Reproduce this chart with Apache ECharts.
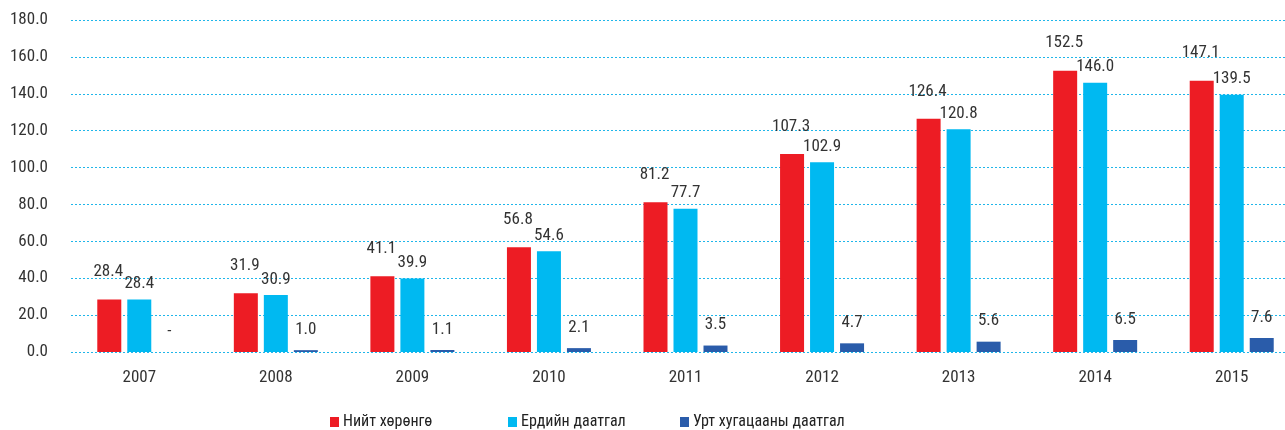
<!DOCTYPE html>
<html><head><meta charset="utf-8">
<script src="https://cdn.jsdelivr.net/npm/echarts@6/dist/echarts.min.js"></script>
<style>html,body{margin:0;padding:0;background:#fff}#c{width:1285px;height:430px}</style>
</head><body><div id="c"></div>
<script>
const categories = ['2007','2008','2009','2010','2011','2012','2013','2014','2015'];
const seriesNames = ['Нийт хөрөнгө','Ердийн даатгал','Урт хугацааны даатгал'];
const totalAssets = [28.4,31.9,41.1,56.8,81.2,107.3,126.4,152.5,147.1];
const generalIns = [28.4,30.9,39.9,54.6,77.7,102.9,120.8,146.0,139.5];
const longTermIns = [0,1.0,1.1,2.1,3.5,4.7,5.6,6.5,7.6];
const yTicks = {min:0,max:180,interval:20};

const FONT = '"Liberation Sans Narrow", "Roboto Condensed", Roboto, sans-serif';
const colors = ['#ed1c24','#00b9f1','#2a5caa'];
const legendLeft = [330, 508, 680];
const fmt = p => p.value === 0 ? '-' : p.value.toFixed(1);
function mk(i, data, dist, off){
  return {
    name: seriesNames[i], type:'bar', data: data, barWidth:24, barGap:'25%',
    itemStyle:{color:colors[i]},
    label:{show:true, position:'top', distance:dist, offset:off, formatter:fmt,
      color:'#333', fontFamily:FONT, fontSize:17},
  };
}
const chart = echarts.init(document.getElementById('c'));
chart.setOption({
  animation:false,
  textStyle:{fontFamily:FONT},
  grid:{left:71, top:20, width:1229, height:332, containLabel:false, outerBoundsMode:'none'},
  legend: seriesNames.map((n,i)=>({
    left:legendLeft[i], top:414, padding:0, itemWidth:9, itemHeight:10, itemGap:6,
    icon:'rect',
    textStyle:{fontFamily:FONT, fontSize:16, color:'#222', padding:[0,0,0,-1]},
    data:[n]
  })),
  xAxis:{
    type:'category', data:categories,
    axisLine:{show:false}, axisTick:{show:false},
    axisLabel:{color:'#333', fontFamily:FONT, fontSize:17, margin:17}
  },
  yAxis:{
    type:'value', min:yTicks.min, max:yTicks.max, interval:yTicks.interval,
    axisLine:{show:false}, axisTick:{show:false},
    axisLabel:{color:'#333', fontFamily:FONT, fontSize:17, margin:23,
      formatter: v => v.toFixed(1)},
    splitLine:{lineStyle:{color:'#1fb6ea', type:[2,2], width:1}}
  },
  series:[
    mk(0,totalAssets,19,[-1,0]),
    mk(1,generalIns,7,[0,0]),
    mk(2,longTermIns,12,[0,0])
  ]
});
</script></body></html>
